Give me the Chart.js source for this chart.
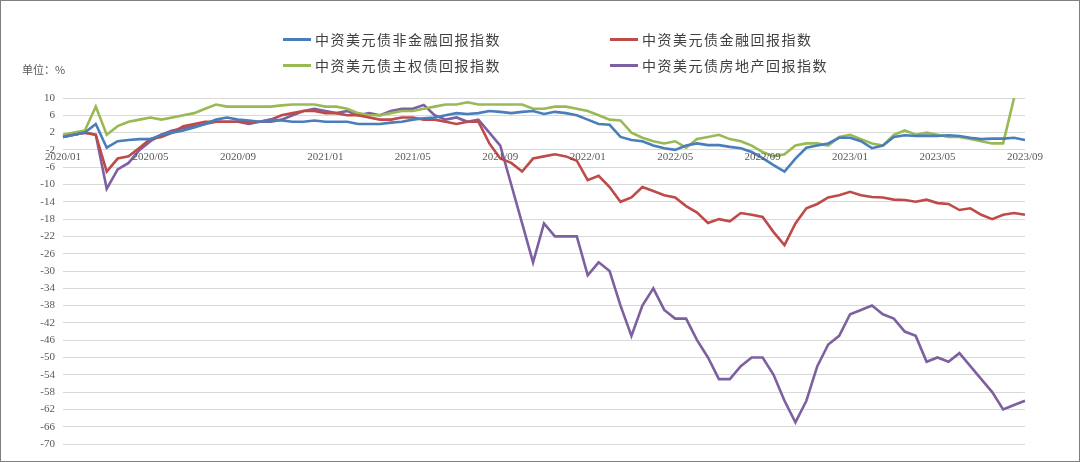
<!DOCTYPE html>
<html><head><meta charset="utf-8">
<script src="https://cdn.jsdelivr.net/npm/chart.js@4"></script>
<style>
body{margin:0;width:1080px;height:462px;overflow:hidden;background:#fff;font-family:"Noto Sans CJK SC";}
#frame{position:absolute;left:0;top:0;width:1078px;height:460px;border:1px solid #7f7f7f;}
canvas{position:absolute;left:0;top:0;}
.lg{position:absolute;font-size:14px;color:#404040;letter-spacing:1.5px;line-height:16px;}
.lg i{display:inline-block;width:28px;height:3px;vertical-align:middle;margin-right:4px;margin-top:-3px;}
#unit{position:absolute;left:22px;top:61px;font-size:11px;color:#595959;}
</style></head><body>
<div id="frame"></div>
<canvas id="c" width="1080" height="462"></canvas>
<div id="unit">单位：%</div>
<div class="lg" style="left:283px;top:31px"><i style="background:#4a7ebb"></i>中资美元债非金融回报指数</div>
<div class="lg" style="left:610px;top:31px"><i style="background:#be4b48"></i>中资美元债金融回报指数</div>
<div class="lg" style="left:283px;top:57px"><i style="background:#98b954"></i>中资美元债主权债回报指数</div>
<div class="lg" style="left:610px;top:57px"><i style="background:#7d60a0"></i>中资美元债房地产回报指数</div>
<script>
const seriesNames=["中资美元债非金融回报指数","中资美元债金融回报指数","中资美元债主权债回报指数","中资美元债房地产回报指数"];
const xTickLabels=["2020/01","2020/05","2020/09","2021/01","2021/05","2021/09","2022/01","2022/05","2022/09","2023/01","2023/05","2023/09"];
const yTicks=[10,6,2,-2,-6,-10,-14,-18,-22,-26,-30,-34,-38,-42,-46,-50,-54,-58,-62,-66,-70];
const nonFin=[1,1.5,2,4,-1.5,0,0.3,0.5,0.5,1.5,2,2.5,3.2,4,5,5.5,5,4.8,4.5,5,4.8,4.5,4.5,4.8,4.5,4.5,4.5,4,4,4,4.3,4.5,5,5.3,5.5,6,6.5,6.3,6.5,7,6.8,6.5,6.8,7,6.3,6.8,6.5,6,5,4,3.8,1,0.3,0,-1,-1.6,-2,-1,-0.5,-0.9,-0.9,-1.3,-1.6,-2.5,-3.9,-5.5,-7,-4,-1.5,-1,-0.5,0.8,0.8,0,-1.6,-1,1,1.4,1.2,1.3,1.2,1.4,1.2,0.8,0.5,0.6,0.6,0.8,0.3];
const fin=[1,1.5,2,1.5,-7,-4,-3.5,-1.5,0.5,1,2,3.5,4,4.5,4.5,4.5,4.5,4.5,4.5,5,6,6.5,7,7,6.5,6.5,6,6,5.5,5,5,5.5,5.5,5,5,4.5,4,4.5,4.5,-0.5,-4,-5,-7,-4,-3.5,-3,-3.5,-4.5,-9,-8,-10.6,-14,-13,-10.6,-11.5,-12.5,-13,-15,-16.5,-18.9,-18,-18.5,-16.6,-17,-17.5,-21,-24,-19,-15.5,-14.5,-13,-12.5,-11.7,-12.5,-12.9,-13,-13.5,-13.6,-14,-13.5,-14.3,-14.5,-15.9,-15.5,-17,-18,-17,-16.6,-17];
const sov=[1.5,2,2.5,8,1.5,3.5,4.5,5,5.5,5,5.5,6,6.5,7.5,8.5,8,8,8,8,8,8.3,8.5,8.5,8.5,8,8,7.5,6.5,6,6,6.5,7,7,7.5,8,8.5,8.5,9,8.5,8.5,8.5,8.5,8.5,7.5,7.5,8,8,7.5,7,6,5,4.8,2,0.8,0,-0.5,0,-1.5,0.5,1,1.5,0.5,0,-1,-2.5,-3.5,-3,-1,-0.5,-0.5,-1,1,1.5,0.5,-0.5,-1,1.5,2.5,1.5,2,1.5,1,1,0.5,0,-0.5,-0.5,10,null];
const realEstate=[1,1.5,2,1.5,-11,-6.5,-5,-2,0,1.5,2.5,3,3.5,4,4.5,4.5,4.5,4,4.5,4.5,5,6,7,7.5,7,6.5,7,6,6.5,6,7,7.5,7.5,8.4,6,5,5.5,4.5,5,2,-1,-10,-19,-28,-19,-22,-22,-22,-31,-28,-30,-38,-45,-38,-34,-39,-41,-41,-46,-50,-55,-55,-52,-50,-50,-54,-60,-65,-60,-52,-47,-45,-40,-39,-38,-40,-41,-44,-45,-51,-50,-51,-49,-52,-55,-58,-62,-61,-60];
const labels=[];
for(let y=2020;y<=2023;y++)for(let m=1;m<=12;m++){if(y===2023&&m>9)break;labels.push(y+"/"+String(m).padStart(2,"0"));if(!(y===2023&&m===9))labels.push(y+"/"+String(m).padStart(2,"0")+"b");}
const colors=["#4a7ebb","#be4b48","#98b954","#7d60a0"];
const xLabelPlugin={id:"xl",afterDraw(ch){const c=ch.ctx,xs=ch.scales.x,ys=ch.scales.y;c.save();c.font="11px 'Liberation Serif'";c.fillStyle="#595959";c.textAlign="center";c.textBaseline="top";const yy=ys.getPixelForValue(-2)+2;xTickLabels.forEach(l=>{const i=labels.indexOf(l);c.fillText(l,xs.getPixelForValue(i),yy);});c.restore();}};
new Chart(document.getElementById("c"),{type:"line",
data:{labels,datasets:[nonFin,fin,sov,realEstate].map((d,k)=>({label:seriesNames[k],data:d,borderColor:colors[k],borderWidth:2.6,pointRadius:0,tension:0,fill:false}))},
options:{responsive:false,animation:false,layout:{padding:{left:0,top:98,right:55,bottom:18}},
plugins:{legend:{display:false},tooltip:{enabled:false}},
scales:{x:{offset:false,grid:{display:false},border:{display:false},ticks:{display:false},afterFit(s){s.height=0;}},
y:{min:-70,max:10,afterBuildTicks(s){s.ticks=yTicks.map(v=>({value:v}));},afterFit(s){s.width=63;},
grid:{color:"#d9d9d9",drawTicks:false},border:{display:false},ticks:{padding:8,color:"#595959",font:{family:"Liberation Serif",size:11}}}}},
plugins:[xLabelPlugin]});
</script></body></html>
